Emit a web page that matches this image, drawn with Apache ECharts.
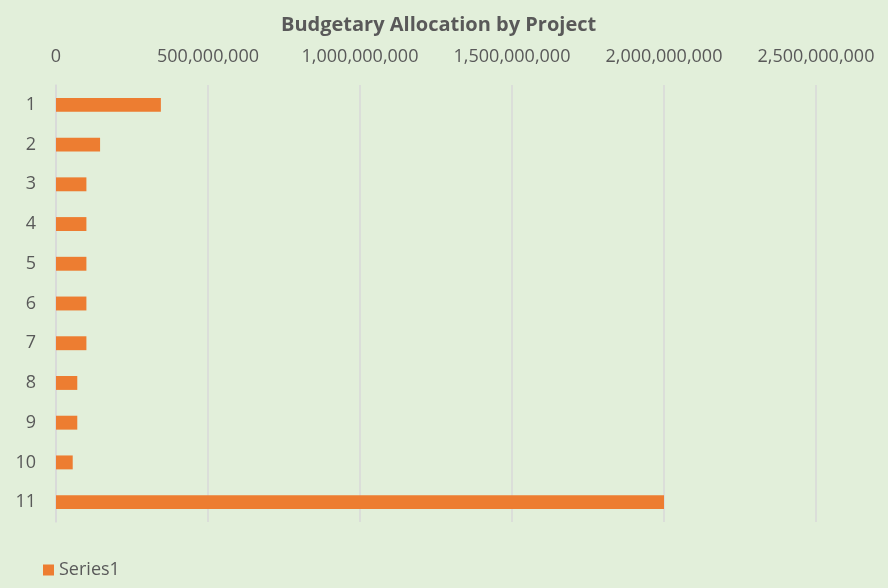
<!DOCTYPE html>
<html>
<head>
<meta charset="utf-8">
<script src="https://cdn.jsdelivr.net/npm/echarts@6/dist/echarts.min.js"></script>
<style>
html,body{margin:0;padding:0;background:#E2EFDA;}
#chart{width:888px;height:588px;}
</style>
</head>
<body>
<div id="chart"></div>
<script>
var categories = ['1','2','3','4','5','6','7','8','9','10','11'];
var series1 = [345000000,145000000,100000000,100000000,100000000,100000000,100000000,70000000,70000000,55000000,2000000000];
var xTicks = [0,500000000,1000000000,1500000000,2000000000,2500000000];

var FONT = "'Open Sans',sans-serif";
var chart = echarts.init(document.getElementById('chart'));
chart.setOption({
  backgroundColor: '#E2EFDA',
  animation: false,
  title: {
    text: 'Budgetary Allocation by Project',
    left: 276, top: 10,
    textStyle: {fontFamily: FONT, fontSize: 20, fontWeight: 'bold', color: '#595959'}
  },
  legend: {
    data: ['Series1'], left: 38, top: 556, itemWidth: 11, itemHeight: 11, itemGap: 5,
    icon: 'rect',
    textStyle: {fontFamily: FONT, fontSize: 18, color: '#595959'}
  },
  grid: {left: 56, right: 72, top: 85, bottom: 66, containLabel: false},
  xAxis: {
    type: 'value', position: 'top', min: 0, max: xTicks[xTicks.length-1], interval: xTicks[1]-xTicks[0],
    axisLine: {show: false}, axisTick: {show: false},
    splitLine: {lineStyle: {color: '#D9D9D9', width: 1.5}},
    axisLabel: {fontFamily: FONT, fontSize: 18, color: '#595959', margin: 19,
      formatter: function(v){ return v.toLocaleString('en-US'); }}
  },
  yAxis: {
    type: 'category', data: categories, inverse: true,
    axisLine: {lineStyle: {color: '#D9D9D9', width: 1.5}}, axisTick: {show: false},
    axisLabel: {fontFamily: FONT, fontSize: 18, color: '#595959', margin: 20}
  },
  series: [{
    name: 'Series1', type: 'bar', data: series1, barWidth: '35%',
    itemStyle: {color: '#ED7D31'}
  }]
});
</script>
</body>
</html>
